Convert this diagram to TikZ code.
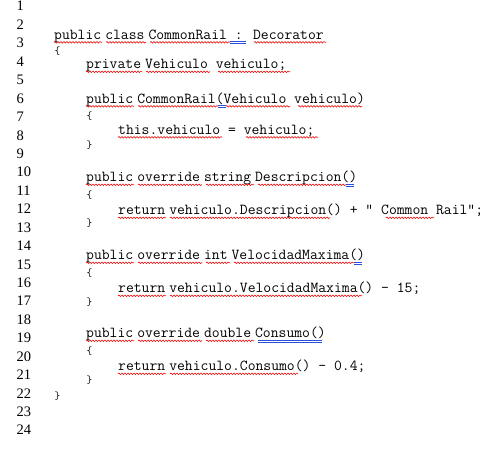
\documentclass[tikz,border=0pt]{standalone}
\usepackage{fontspec}
\newfontfamily\numfont{Liberation Serif}
\usetikzlibrary{decorations.pathmorphing}
\definecolor{gblue}{RGB}{40,80,220}
\definecolor{sred}{RGB}{235,20,20}
\newcommand\nsp{\hspace{4pt}}
\tikzset{
  num/.style={anchor=base west, inner sep=0pt, font=\numfont\fontsize{14.5pt}{17pt}\selectfont},
  code/.style={anchor=base west, inner sep=0pt, font=\ttfamily\addfontfeatures{FakeBold=0.3}\fontsize{15.238pt}{18pt}\selectfont},
  brace/.style={anchor=center, inner sep=0pt, font=\ttfamily\fontsize{11pt}{13pt}\selectfont},
  spell/.style={draw=sred, line width=0.6pt, decorate, decoration={snake, amplitude=0.8pt, segment length=3pt}},
  gram/.style={draw=gblue, line width=0.7pt}
}
\begin{document}
\begin{tikzpicture}[x=1pt,y=-1pt]
\fill[white] (0,0) rectangle (504,454);
\useasboundingbox (0,0) rectangle (504,454);
% line numbers
\foreach \n in {1,...,24}{
  \node[num] (n\n) at (16.5,{11+(\n-1)*18.43}) {\n};
}
% code lines
\node[code] (c3)  at (54,39.5)  {public\nsp class\nsp CommonRail : Decorator};
\node[brace] (b3) at (57.5,51.5) {\{};
\node[code] (c4)  at (86,69)    {private\nsp Vehiculo vehiculo;};
\node[code] (c6)  at (86,103.5) {public\nsp CommonRail(Vehiculo vehiculo)};
\node[brace] (b7) at (89.5,116.5) {\{};
\node[code] (c8)  at (118,134.5) {this.vehiculo = vehiculo;};
\node[brace] (b9) at (89.5,145.5) {\}};
\node[code] (c10) at (86,182)   {public\nsp override\nsp string\nsp Descripcion()};
\node[brace] (b11) at (89.5,195) {\{};
\node[code] (c12) at (118,215)  {return\nsp vehiculo.Descripcion() + " Common Rail";};
\node[brace] (b13) at (89.5,223.5) {\}};
\node[code] (c15) at (86,260)   {public\nsp override\nsp int\nsp VelocidadMaxima()};
\node[brace] (b16) at (89.5,273) {\{};
\node[code] (c16) at (118,293)  {return\nsp vehiculo.VelocidadMaxima() - 15;};
\node[brace] (b17) at (89.5,302) {\}};
\node[code] (c19) at (86,338)   {public\nsp override\nsp double\nsp Consumo()};
\node[brace] (b20) at (89.5,351) {\{};
\node[code] (c21) at (118,371)  {return\nsp vehiculo.Consumo() - 0.4;};
\node[brace] (b21) at (89.5,380.5) {\}};
\node[brace] (b22) at (57.5,396.5) {\}};
% spelling marks
\foreach \y/\a/\b in {
  42.3/54/102, 42.3/106/146, 42.3/150/230, 42.3/254/326,
  71.8/86/142, 71.8/146/210, 71.8/218/290,
  106.3/86/134, 106.3/138/218, 106.3/226/290, 106.3/298/362,
  137.3/118/222, 137.3/246/318,
  184.8/86/134, 184.8/138/202, 184.8/206/254, 184.8/258/346,
  217.8/118/166, 217.8/170/330, 217.8/386/434,
  262.8/86/134, 262.8/138/202, 262.8/206/230, 262.8/234/354,
  295.8/118/166, 295.8/170/362,
  340.8/86/134, 340.8/138/202, 340.8/206/254,
  373.8/118/166, 373.8/170/298}{
  \draw[spell] (\a,\y) -- (\b,\y);
}
% grammar marks (double underline)
\foreach \y/\a/\b in {41.6/230/246, 105.6/218/226, 184.1/346/354, 262.1/354/362, 340.1/258/322}{
  \draw[gram] (\a,\y) -- (\b,\y);
  \draw[gram] (\a,\y+2) -- (\b,\y+2);
}
\end{tikzpicture}
\end{document}
